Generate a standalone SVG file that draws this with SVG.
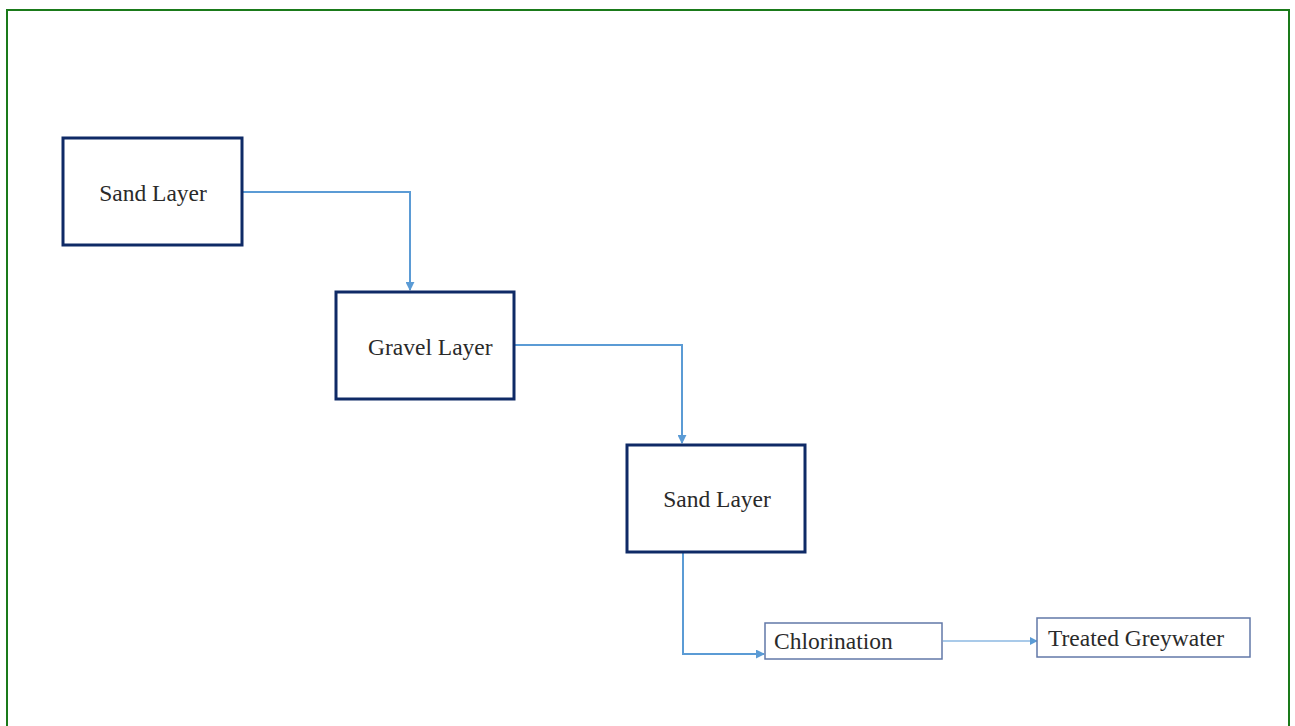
<svg xmlns="http://www.w3.org/2000/svg" width="1295" height="726" viewBox="0 0 1295 726">
  <style>
    .frame { fill: none; stroke: #1a7a1a; stroke-width: 2; }
    .layer { fill: #ffffff; stroke: #0f2a66; stroke-width: 3; }
    .step { fill: #ffffff; stroke: #6278a8; stroke-width: 1.5; }
    .label { font-family: "Liberation Serif", "Times New Roman", serif; font-size: 23.5px; fill: #2a2a2a; }
    .flow { fill: none; stroke: #5b9bd5; stroke-width: 2; }
    .flow-thin { fill: none; stroke: #8db8e2; stroke-width: 1.3; }
  </style>
  <defs>
    <marker id="arrow" viewBox="0 0 10 10" refX="9" refY="5" markerWidth="4.5" markerHeight="4.5" orient="auto" markerUnits="strokeWidth">
      <path d="M0,0 L10,5 L0,10 z" fill="#5b9bd5"/>
    </marker>
    <marker id="arrow-thin" viewBox="0 0 10 10" refX="9" refY="5" markerWidth="6" markerHeight="6" orient="auto" markerUnits="strokeWidth">
      <path d="M0,0 L10,5 L0,10 z" fill="#5b9bd5"/>
    </marker>
  </defs>

  <rect x="0" y="0" width="1295" height="726" fill="#ffffff"/>
  <rect class="frame" x="7" y="10" width="1282" height="730"/>

  <g id="connectors">
    <path class="flow" d="M243,192 H410 V290" marker-end="url(#arrow)"/>
    <path class="flow" d="M515,345 H682 V443" marker-end="url(#arrow)"/>
    <path class="flow" d="M683,553 V654 H764" marker-end="url(#arrow)"/>
    <path class="flow-thin" d="M943,641 H1037" marker-end="url(#arrow-thin)"/>
  </g>

  <g id="sand-layer-1">
    <rect class="layer" x="63" y="138" width="179" height="107"/>
    <text class="label" x="153" y="201" text-anchor="middle">Sand Layer</text>
  </g>

  <g id="gravel-layer">
    <rect class="layer" x="336" y="292" width="178" height="107"/>
    <text class="label" x="368" y="355">Gravel Layer</text>
  </g>

  <g id="sand-layer-2">
    <rect class="layer" x="627" y="445" width="178" height="107"/>
    <text class="label" x="717" y="507" text-anchor="middle">Sand Layer</text>
  </g>

  <g id="chlorination">
    <rect class="step" x="765" y="623" width="177" height="36"/>
    <text class="label" x="774" y="649">Chlorination</text>
  </g>

  <g id="treated-greywater">
    <rect class="step" x="1037" y="618" width="213" height="39"/>
    <text class="label" x="1048" y="646">Treated Greywater</text>
  </g>
</svg>
